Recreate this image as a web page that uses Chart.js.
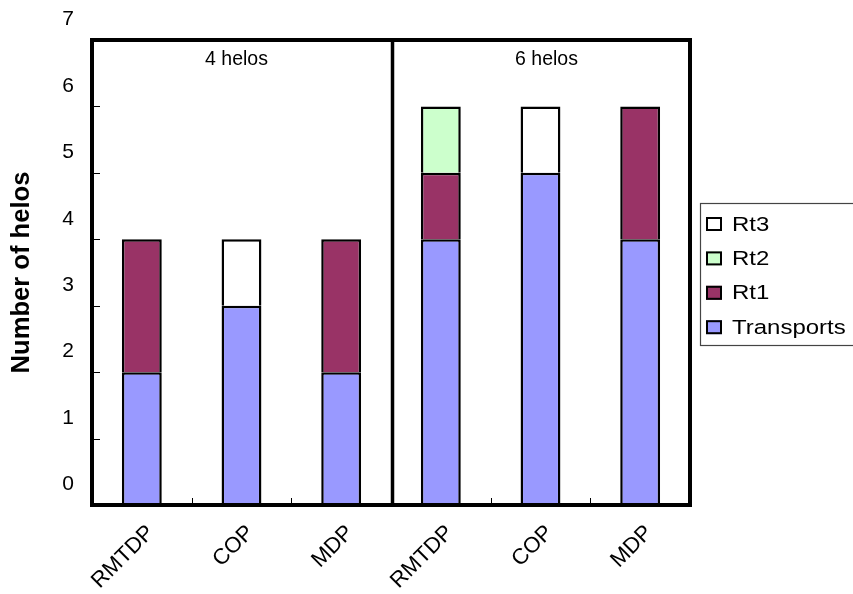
<!DOCTYPE html>
<html>
<head>
<meta charset="utf-8">
<script src="https://cdn.jsdelivr.net/npm/chart.js@4"></script>
<style>
  html, body { margin: 0; padding: 0; background: #fff; }
  #wrap { width: 853px; height: 594px; }
</style>
</head>
<body>
<div id="wrap"><canvas id="c" width="853" height="594"></canvas></div>
<script>
// Method names along the x axis (two groups of three)
const methods = ['RMTDP', 'COP', 'MDP', 'RMTDP', 'COP', 'MDP'];
const groupLabels = ['4 helos', '6 helos'];

// Number of helos assigned to each role, per method
const transports = [2, 3, 2, 4, 5, 4];
const rt1 = [2, 0, 2, 1, 0, 2];
const rt2 = [0, 0, 0, 1, 0, 0];
const rt3 = [0, 1, 0, 0, 1, 0];

const seriesNames = ['Transports', 'Rt1', 'Rt2', 'Rt3'];
const yTicks = [0, 1, 2, 3, 4, 5, 6, 7];

const FONT = '"Liberation Sans", Arial, Helvetica, sans-serif';

// Frame, divider, inner tick marks, group captions and the legend
const framePlugin = {
  id: 'frame',
  afterDatasetsDraw(chart) {
    const { ctx, chartArea: a, scales: { x, y } } = chart;
    ctx.save();
    ctx.strokeStyle = '#000';

    // short inward ticks on the value axis
    ctx.lineWidth = 1;
    yTicks.forEach(v => {
      const py = Math.round(y.getPixelForValue(v)) + 0.5;
      ctx.beginPath();
      ctx.moveTo(a.left, py);
      ctx.lineTo(a.left + 8, py);
      ctx.stroke();
    });

    // short inward ticks between categories
    for (let i = 1; i < methods.length; i++) {
      const px = Math.round((x.getPixelForValue(i - 1) + x.getPixelForValue(i)) / 2) + 0.5;
      ctx.beginPath();
      ctx.moveTo(px, a.bottom);
      ctx.lineTo(px, a.bottom - 7);
      ctx.stroke();
    }

    // divider between the two fleet sizes
    const mid = (x.getPixelForValue(2) + x.getPixelForValue(3)) / 2 + 1.5;
    ctx.lineWidth = 3.5;
    ctx.beginPath();
    ctx.moveTo(mid, a.top);
    ctx.lineTo(mid, a.bottom);
    ctx.stroke();

    // plot frame
    ctx.lineWidth = 4;
    ctx.strokeRect(a.left, a.top, a.right - a.left, a.bottom - a.top);

    // group captions
    ctx.fillStyle = '#000';
    ctx.font = '19.5px ' + FONT;
    ctx.textAlign = 'center';
    ctx.textBaseline = 'middle';
    ctx.fillText(groupLabels[0], x.getPixelForValue(1) - 5, a.top + 20);
    ctx.fillText(groupLabels[1], x.getPixelForValue(4) + 6, a.top + 20);

    // legend (top series first)
    const lx = a.right + 10, ly = 203, lw = 160, lh = 142;
    ctx.lineWidth = 1.2;
    ctx.strokeStyle = '#444';
    ctx.strokeRect(lx + 0.5, ly + 0.5, lw, lh);
    const items = chart.data.datasets.slice().reverse();
    items.forEach((ds, i) => {
      const cy = ly + 21 + i * 34.4;
      ctx.fillStyle = ds.backgroundColor;
      ctx.fillRect(lx + 6, cy - 7, 16, 14);
      ctx.lineWidth = 2;
      ctx.strokeStyle = '#000';
      ctx.strokeRect(lx + 7, cy - 6, 14, 12);
      ctx.save();
      ctx.translate(lx + 32, cy + 1);
      ctx.scale(1.17, 1);
      ctx.fillStyle = '#000';
      ctx.font = '20.5px ' + FONT;
      ctx.textAlign = 'left';
      ctx.textBaseline = 'middle';
      ctx.fillText(ds.label, 0, 0);
      ctx.restore();
    });

    ctx.restore();
  }
};

const barStyle = { borderColor: '#000', borderWidth: 2.5, barPercentage: 0.4, categoryPercentage: 1.0 };

new Chart(document.getElementById('c'), {
  type: 'bar',
  data: {
    labels: methods,
    datasets: [
      { label: seriesNames[0], data: transports, backgroundColor: '#9999FF', ...barStyle },
      { label: seriesNames[1], data: rt1, backgroundColor: '#993366', ...barStyle },
      { label: seriesNames[2], data: rt2, backgroundColor: '#CCFFCC', ...barStyle },
      { label: seriesNames[3], data: rt3, backgroundColor: '#FFFFFF', ...barStyle }
    ]
  },
  options: {
    responsive: false,
    devicePixelRatio: 1,
    animation: false,
    layout: { padding: { left: 0, top: 40, right: 163, bottom: 0 } },
    plugins: { legend: { display: false }, tooltip: { enabled: false } },
    scales: {
      x: {
        stacked: true,
        grid: { display: false, drawTicks: false },
        border: { display: false },
        ticks: {
          autoSkip: false,
          minRotation: 45,
          maxRotation: 45,
          padding: 15,
          labelOffset: 9,
          color: '#000',
          font: { family: FONT, size: 22 }
        },
        afterFit(scale) { scale.height = 89; }
      },
      y: {
        stacked: true,
        min: 0,
        max: 7,
        grid: { display: false, drawTicks: false },
        border: { display: false },
        ticks: {
          stepSize: 1,
          padding: 18,
          labelOffset: -20.5,
          color: '#000',
          font: { family: FONT, size: 21 }
        },
        title: {
          display: true,
          text: 'Number of helos',
          color: '#000',
          padding: { top: 7, bottom: 0 },
          font: { family: FONT, size: 25.6, weight: 'bold' }
        },
        afterFit(scale) { scale.width = 92; }
      }
    }
  },
  plugins: [framePlugin]
});
</script>
</body>
</html>
